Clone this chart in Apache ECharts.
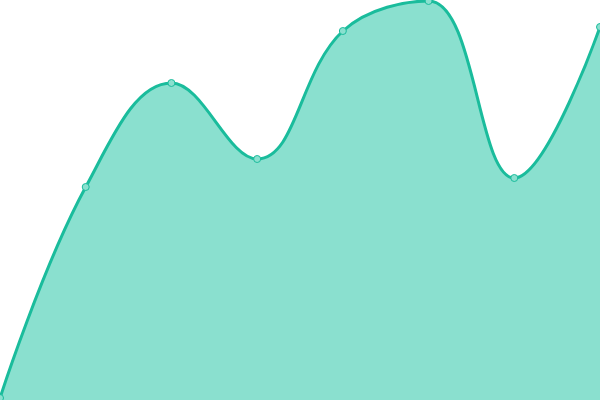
<!DOCTYPE html>
<html><head><meta charset="utf-8">
<script src="https://cdn.jsdelivr.net/npm/echarts@6/dist/echarts.min.js"></script>
<style>html,body{margin:0;padding:0;background:#fff}#c{width:600px;height:400px}</style>
</head><body><div id="c"></div>
<script>
const categories = ['1','2','3','4','5','6','7','8'];
const values = [2, 213, 317, 241, 369, 399, 222, 373];
const chart = echarts.init(document.getElementById('c'));
chart.setOption({
  animation: false,
  grid: {left: 0, right: 0, top: 0, bottom: 0},
  xAxis: {type: 'category', data: categories, boundaryGap: false, show: false},
  yAxis: {type: 'value', min: 0, max: 400, show: false},
  series: [{
    type: 'line',
    data: values,
    smooth: 0.4,
    symbol: 'circle',
    symbolSize: 7,
    itemStyle: {color: '#8ae0cf', borderColor: '#1abc9c', borderWidth: 1},
    lineStyle: {color: '#1abc9c', width: 3},
    areaStyle: {color: '#8ae0cf', opacity: 1}
  }]
});
</script></body></html>
